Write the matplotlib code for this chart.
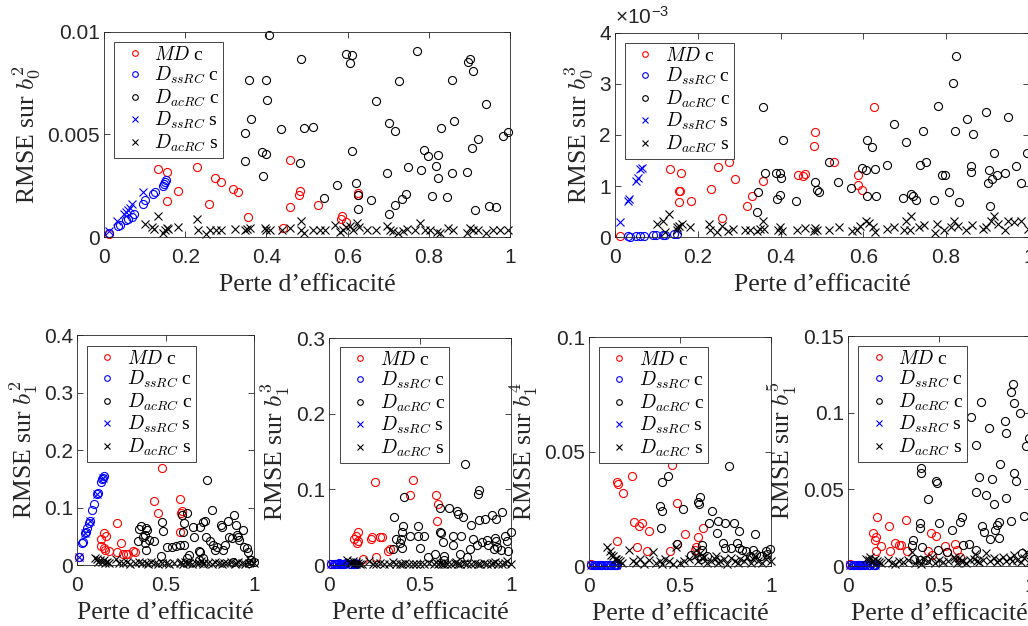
import numpy as np
import matplotlib
matplotlib.use("Agg")
import matplotlib.pyplot as plt

# ---- haut gauche : RMSE sur b0^2 ----
p1_md_x = [0.012,0.133,0.155,0.154,0.160,0.182,0.230,0.248,0.259,0.274,0.288,0.318,0.329,0.355,0.442,0.457,0.458,0.481,0.483,0.528,0.584,0.586,0.597,0.626,0.626]
p1_md_y = [0.00016,0.00334,0.00315,0.00178,0.0045,0.00223,0.00341,0.0042,0.00163,0.00289,0.00266,0.00232,0.00219,0.00098,0.00044,0.00144,0.00375,0.00204,0.00223,0.00155,0.0009,0.00103,0.00073,0.00217,0.00204]
p1_ssc_x = [0.012,0.035,0.040,0.055,0.060,0.070,0.075,0.095,0.100,0.120,0.125,0.145,0.148,0.150,0.152]
p1_ssc_y = [0.0002,0.00055,0.0006,0.00085,0.0009,0.001,0.0011,0.0016,0.0018,0.0021,0.0022,0.0025,0.0026,0.0027,0.0028]
p1_acc_x = [0.407,0.597,0.611,0.606,0.486,0.770,0.897,0.902,0.910,0.357,
            0.399,0.727,0.856,0.401,0.671,0.942,0.361,0.703,0.716,0.862,
            0.348,0.436,0.493,0.515,0.829,0.982,0.996,0.922,0.906,0.611,
            0.388,0.398,0.788,0.797,0.823,0.347,0.482,0.392,0.749,0.780,
            0.817,0.696,0.894,0.857,0.822,0.573,0.620,0.541,0.626,0.657,
            0.735,0.743,0.717,0.807,0.846,0.626,0.703,0.914,0.948,0.965]
p1_acc_y = [0.00987,0.00892,0.00886,0.00848,0.00866,0.00905,0.00855,0.00868,0.00812,0.00767,
            0.00767,0.00763,0.00767,0.00666,0.00661,0.00649,0.00574,0.00555,0.00519,0.00566,
            0.00509,0.00529,0.00532,0.00538,0.0053,0.00493,0.00512,0.00476,0.00432,0.00421,
            0.00416,0.00405,0.00424,0.00396,0.00398,0.0037,0.00359,0.00297,0.00343,0.00325,
            0.00346,0.0031,0.00318,0.0031,0.00287,0.00256,0.00264,0.00191,0.00204,0.00181,
            0.00186,0.00209,0.00155,0.00199,0.00196,0.00139,0.00111,0.00134,0.00153,0.00144]
p1_sss_x = [0.012,0.032,0.050,0.055,0.058,0.065,0.070,0.095]
p1_sss_y = [0.00028,0.0008,0.0011,0.0012,0.0013,0.0014,0.0016,0.0022]
p1_acs_x = [0.102,0.117,0.122,0.133,0.145,0.150,0.154,0.158,0.182,0.229,
            0.231,0.250,0.260,0.275,0.288,0.323,0.347,0.352,0.359,0.396,
            0.400,0.408,0.439,0.459,0.486,0.486,0.492,0.515,0.532,0.544,
            0.569,0.581,0.589,0.597,0.606,0.614,0.622,0.629,0.648,0.669,
            0.698,0.704,0.712,0.725,0.737,0.747,0.766,0.778,0.790,0.803,
            0.819,0.827,0.848,0.860,0.893,0.901,0.910,0.922,0.942,0.959,
            0.975,0.996]
p1_acs_y = [0.00062,0.00049,0.00041,0.00101,0.00021,0.00036,0.00046,0.00041,0.00049,0.00086,
            0.00033,0.00016,0.00033,0.00036,0.00036,0.00041,0.00033,0.00038,0.00044,0.00044,
            0.00036,0.00033,0.00033,0.00044,0.00077,0.00033,0.00021,0.00033,0.00033,0.00033,
            0.0006,0.00024,0.00033,0.00049,0.00054,0.00033,0.00069,0.00049,0.00033,0.00033,
            0.00054,0.00033,0.00028,0.00021,0.00028,0.00041,0.00033,0.00069,0.00033,0.00033,
            0.00024,0.00021,0.00044,0.00033,0.00021,0.00044,0.00033,0.00033,0.00021,0.00033,
            0.00033,0.00036]

# ---- haut droite : RMSE sur b0^3 (en 1e-3) ----
p2_md_x = [0.011,0.132,0.154,0.157,0.160,0.154,0.183,0.232,0.248,0.259,
           0.276,0.289,0.319,0.330,0.357,0.441,0.455,0.460,0.483,0.482,
           0.530,0.586,0.588,0.597,0.626]
p2_md_y = [0.02,1.33,0.91,0.91,1.25,0.68,0.71,0.95,1.38,0.37,
           1.48,1.14,0.61,0.81,1.10,1.21,1.19,1.24,2.05,1.78,
           1.47,1.21,1.02,0.92,2.55]
p2_ssc_x = [0.032,0.036,0.052,0.060,0.070,0.092,0.100,0.116,0.122,0.142,0.149]
p2_ssc_y = [0.013,0.007,0.02,0.02,0.02,0.033,0.033,0.04,0.04,0.06,0.065]
p2_acc_x = [0.825,0.817,0.358,0.781,0.897,0.949,0.850,0.674,0.822,0.745,
            0.866,0.407,0.610,0.620,0.704,0.915,0.996,0.517,0.751,0.736,
            0.658,0.968,0.627,0.597,0.607,0.860,0.904,0.860,0.363,0.389,
            0.398,0.402,0.791,0.797,0.922,0.942,0.901,0.911,0.484,0.540,
            0.981,0.346,0.487,0.494,0.570,0.808,0.716,0.719,0.697,0.727,
            0.771,0.391,0.399,0.437,0.610,0.630,0.830,0.907,0.344]
p2_acc_y = [3.54,3.02,2.55,2.57,2.46,2.35,2.31,2.22,2.08,2.07,
            2.01,1.91,1.91,1.76,1.86,1.65,1.65,1.48,1.48,1.42,
            1.42,1.39,1.33,1.36,1.31,1.39,1.32,1.27,1.25,1.25,
            1.25,1.15,1.21,1.21,1.21,1.25,1.05,1.14,1.08,1.08,
            1.05,0.88,0.93,0.88,0.96,0.88,0.84,0.80,0.76,0.73,
            0.73,0.75,0.82,0.71,0.80,0.80,0.69,0.61,0.50]
p2_sss_x = [0.011,0.032,0.035,0.052,0.056,0.061,0.065,0.075,0.09,0.10,0.12,0.15]
p2_sss_y = [0.29,0.70,0.75,1.09,1.16,1.33,1.35,1.6,2.0,2.2,2.6,3.2]
p2_acs_x = [0.102,0.116,0.131,0.122,0.149,0.151,0.155,0.161,0.181,0.226,
            0.230,0.246,0.258,0.274,0.286,0.314,0.327,0.343,0.351,0.357,
            0.361,0.395,0.399,0.403,0.440,0.460,0.480,0.484,0.487,0.517,
            0.541,0.573,0.585,0.593,0.606,0.614,0.624,0.627,0.658,0.673,
            0.698,0.703,0.713,0.716,0.735,0.747,0.774,0.779,0.795,0.812,
            0.820,0.828,0.848,0.862,0.888,0.897,0.909,0.915,0.925,0.941,
            0.949,0.965,0.981,0.998]
p2_acs_y = [0.26,0.32,0.45,0.09,0.19,0.14,0.21,0.26,0.20,0.26,
            0.14,0.09,0.21,0.11,0.16,0.14,0.14,0.11,0.16,0.32,
            0.16,0.14,0.19,0.11,0.14,0.17,0.11,0.18,0.14,0.14,
            0.19,0.11,0.14,0.21,0.31,0.27,0.19,0.10,0.16,0.19,
            0.14,0.31,0.14,0.42,0.19,0.24,0.08,0.25,0.14,0.19,
            0.32,0.21,0.14,0.23,0.16,0.19,0.31,0.41,0.26,0.14,
            0.31,0.29,0.31,0.16]

# ---- rangee du bas : positions communes ----
bas_ssc_x = [0.013,0.028,0.034,0.043,0.053,0.058,0.066,0.072,0.085,0.096,0.115,0.119,0.138,0.143,0.147,0.151]
bas_sss_x = [0.013,0.043,0.072,0.115,0.147]
bas_acs_x = [0.10,0.115,0.12,0.13,0.14,0.15,0.16,0.17,0.18,
             0.22,0.24,0.26,0.28,0.30,0.33,0.35,0.37,0.39,0.40,
             0.42,0.44,0.46,0.48,0.50,0.52,0.55,0.58,0.59,0.60,
             0.61,0.62,0.63,0.65,0.67,0.69,0.70,0.71,0.72,0.74,
             0.76,0.78,0.80,0.82,0.83,0.85,0.87,0.89,0.90,0.91,
             0.93,0.95,0.97,0.98,1.0]

# b1^2
b1_md_x = [0.013,0.134,0.153,0.162,0.138,0.151,0.157,0.181,0.225,0.247,0.228,0.260,0.279,0.289,0.319,0.330,0.436,0.455,0.481,0.583,0.591,0.583,0.587]
b1_md_y = [0.0145,0.045,0.056,0.051,0.033,0.029,0.026,0.024,0.073,0.038,0.023,0.020,0.019,0.020,0.024,0.023,0.112,0.091,0.169,0.115,0.094,0.058,0.091]
b1_ssc_y = [0.0145,0.038,0.040,0.055,0.058,0.064,0.073,0.076,0.096,0.106,0.123,0.126,0.145,0.149,0.151,0.154]
b1_acc_x = [0.736,0.764,0.481,0.487,0.349,0.360,0.392,0.398,0.383,0.374,
            0.342,0.383,0.406,0.434,0.389,0.477,0.511,0.534,0.557,0.581,
            0.606,0.600,0.594,0.602,0.655,0.662,0.696,0.709,0.723,0.726,
            0.751,0.689,0.696,0.770,0.789,0.811,0.817,0.851,0.858,0.874,
            0.889,0.898,0.902,0.908,0.917,0.940,0.945,0.958,0.968,0.983,
            0.779,0.826,0.836,0.619,0.62,0.63,0.69,0.71,0.88,1.0,0.97]
b1_acc_y = [0.148,0.095,0.074,0.060,0.063,0.068,0.064,0.061,0.052,0.048,
            0.041,0.039,0.044,0.042,0.027,0.016,0.032,0.032,0.033,0.035,
            0.035,0.058,0.087,0.073,0.067,0.048,0.066,0.074,0.076,0.048,
            0.042,0.024,0.022,0.035,0.032,0.070,0.066,0.077,0.048,0.047,
            0.087,0.070,0.052,0.049,0.044,0.061,0.032,0.029,0.023,0.009,
            0.026,0.026,0.035,0.090,0.012,0.018,0.008,0.012,0.005,0.005,0.004]
b1_sss_y = [0.0145,0.055,0.076,0.123,0.151]
b1_acs_y = [0.012,0.010,0.006,0.009,0.005,0.008,0.004,0.006,0.003,
            0.011,0.004,0.003,0.005,0.002,0.004,0.006,0.003,0.004,0.002,
            0.005,0.003,0.002,0.004,0.003,0.002,0.004,0.003,0.006,0.002,
            0.005,0.003,0.004,0.002,0.003,0.004,0.007,0.002,0.003,0.004,
            0.002,0.005,0.003,0.002,0.004,0.003,0.005,0.002,0.004,0.006,
            0.003,0.002,0.004,0.008,0.003]

# b1^3
b2_md_x = [0.013,0.251,0.462,0.448,0.591,0.600,0.593,0.160,0.150,0.136,0.160,0.156,0.229,0.237,0.283,0.292,0.334,0.325,0.261,0.187]
b2_md_y = [0.002,0.110,0.112,0.092,0.093,0.081,0.058,0.043,0.038,0.035,0.032,0.029,0.035,0.037,0.037,0.037,0.021,0.018,0.011,0.0075]
b2_ssc_y = [0.001,0.002,0.001,0.002,0.003,0.001,0.002,0.002,0.001,0.003,0.002,0.001,0.002,0.003,0.002,0.001]
b2_acc_x = [0.747,0.826,0.820,0.411,0.613,0.661,0.706,0.710,0.738,0.358,
            0.407,0.490,0.783,0.826,0.857,0.897,0.917,0.952,0.402,0.609,
            0.618,0.367,0.398,0.444,0.490,0.523,0.389,0.402,0.352,0.499,
            0.628,0.679,0.725,0.679,0.793,0.811,0.839,0.866,0.875,0.912,
            0.916,0.925,0.774,0.908,0.945,0.967,1.000,0.976,0.982,0.545,
            0.582,0.631,0.719,0.756,0.633]
b2_acc_y = [0.134,0.099,0.094,0.090,0.075,0.076,0.071,0.068,0.064,0.063,
            0.052,0.052,0.053,0.060,0.061,0.066,0.061,0.070,0.043,0.044,
            0.042,0.035,0.035,0.038,0.039,0.039,0.029,0.022,0.021,0.023,
            0.031,0.038,0.039,0.027,0.035,0.026,0.030,0.033,0.027,0.036,
            0.032,0.024,0.021,0.021,0.020,0.038,0.044,0.032,0.019,0.010,
            0.015,0.012,0.015,0.010,0.007]
b2_sss_y = [0.001,0.002,0.001,0.002,0.001]
b2_acs_y = [0.006,0.004,0.003,0.005,0.002,0.004,0.003,0.002,0.001,
            0.005,0.002,0.001,0.003,0.001,0.002,0.004,0.001,0.002,0.001,
            0.003,0.002,0.001,0.002,0.001,0.002,0.003,0.001,0.004,0.002,
            0.003,0.001,0.002,0.001,0.002,0.003,0.004,0.001,0.002,0.003,
            0.001,0.002,0.003,0.001,0.002,0.003,0.002,0.001,0.003,0.004,
            0.002,0.001,0.003,0.005,0.002]

# b1^4
b3_md_x = [0.457,0.234,0.155,0.161,0.188,0.484,0.249,0.289,0.274,0.329,
           0.627,0.530,0.600,0.155,0.261,0.316,0.444,0.587,0.581,0.481,0.01]
b3_md_y = [0.0442,0.0393,0.0365,0.0358,0.0320,0.0276,0.0193,0.0186,0.0174,0.0154,
           0.0168,0.0142,0.0127,0.0108,0.0083,0.0064,0.0064,0.0083,0.0072,0.0098,0.001]
b3_ssc_y = [0.0003,0.0004,0.0003,0.0005,0.0004,0.0003,0.0005,0.0004,0.0003,0.0004,0.0005,0.0003,0.0004,0.0005,0.0004,0.0003]
b3_acc_x = [0.768,0.435,0.399,0.609,0.600,0.605,0.389,0.402,0.517,0.676,
            0.706,0.658,0.746,0.795,0.395,0.704,0.823,0.914,0.481,0.622,
            0.735,0.746,0.782,0.815,0.823,0.843,0.865,0.901,0.920,0.974,
            0.993,0.563,0.623,0.651,0.618,0.883,0.947,0.980]
b3_acc_y = [0.0439,0.0393,0.0365,0.0300,0.0281,0.0273,0.0262,0.0240,0.0249,0.0241,
            0.0196,0.0186,0.0189,0.0190,0.0164,0.0145,0.0152,0.0142,0.0095,0.0094,
            0.0102,0.0079,0.0079,0.0101,0.0079,0.0069,0.0064,0.0069,0.0054,0.0064,
            0.0076,0.0050,0.0072,0.0042,0.0032,0.0042,0.0042,0.0054]
b3_sss_y = [0.0003,0.0004,0.0003,0.0004,0.0003]
b3_acs_y = [0.0083,0.0064,0.005,0.0042,0.003,0.0032,0.0025,0.002,0.0015,
            0.0072,0.002,0.0015,0.003,0.001,0.0025,0.0061,0.0015,0.002,0.001,
            0.003,0.002,0.001,0.0083,0.0015,0.002,0.003,0.0045,0.007,0.002,
            0.0055,0.0035,0.004,0.0015,0.002,0.003,0.0045,0.0015,0.002,0.003,
            0.001,0.0035,0.002,0.0015,0.003,0.002,0.004,0.0015,0.003,0.0045,
            0.002,0.0015,0.003,0.005,0.002]

# b1^5
b4_md_x = [0.161,0.320,0.228,0.135,0.154,0.148,0.457,0.485,0.181,0.259,
           0.278,0.293,0.531,0.589,0.598,0.154,0.231,0.324,0.441,0.459,
           0.546,0.615,0.009]
b4_md_y = [0.0320,0.0302,0.0261,0.0217,0.0189,0.0172,0.0215,0.0196,0.0128,0.0152,
           0.0139,0.0139,0.0128,0.0141,0.0107,0.0096,0.0096,0.0096,0.0096,0.0074,
           0.0091,0.0059,0.0015]
b4_ssc_y = [0.0005,0.0008,0.0006,0.0009,0.0007,0.0006,0.0008,0.0009,0.0007,0.0006,0.0008,0.0009,0.0007,0.0008,0.0006,0.0009]
b4_acc_x = [0.907,0.898,0.913,0.944,0.731,0.676,0.861,0.774,0.870,0.996,
            0.981,0.704,0.833,0.402,0.402,0.719,0.793,0.911,0.926,0.485,
            0.487,0.439,0.704,0.756,0.800,0.867,0.969,0.626,0.617,0.898,
            0.830,0.819,0.737,0.746,0.809,0.783,0.828,0.500,0.393,0.393,
            0.574,0.357,0.352,0.404,0.496,0.663,0.630,0.543,0.704,0.954,
            0.361,0.398,0.426]
b4_acc_y = [0.1189,0.1135,0.1063,0.1000,0.1070,0.0972,0.0946,0.0900,0.0867,0.0837,
            0.0783,0.0791,0.0667,0.0641,0.0609,0.0580,0.0570,0.0609,0.0554,0.0552,
            0.0541,0.0439,0.0483,0.0461,0.0407,0.0443,0.0326,0.0320,0.0287,0.0293,
            0.0287,0.0270,0.0259,0.0222,0.0237,0.0174,0.0185,0.0283,0.0280,0.0250,
            0.0233,0.0167,0.0135,0.0124,0.0102,0.0146,0.0135,0.0091,0.0102,0.0085,
            0.0043,0.0037,0.0037]
b4_sss_y = [0.0005,0.0007,0.0006,0.0008,0.0006]
b4_acs_y = [0.0048,0.0041,0.006,0.0035,0.003,0.0045,0.003,0.0025,0.002,
            0.0037,0.002,0.0015,0.003,0.0025,0.004,0.0091,0.002,0.003,0.0015,
            0.0045,0.003,0.0059,0.002,0.004,0.0025,0.003,0.0059,0.0045,0.002,
            0.005,0.0035,0.003,0.002,0.004,0.0045,0.008,0.003,0.0025,0.004,
            0.0085,0.003,0.005,0.0025,0.004,0.006,0.0035,0.005,0.003,0.007,
            0.004,0.0025,0.005,0.0091,0.003]

labels = [r'$MD$ c', r'$D_{ssRC}$ c', r'$D_{acRC}$ c', r'$D_{ssRC}$ s', r'$D_{acRC}$ s']
SERIF = 'Liberation Serif'
GRIS = '#262626'


def trace(ax, series, ylim, yticks, xticks, ylab, leg_pos):
    styles = [('o', 'red'), ('o', 'blue'), ('o', 'black'), ('x', 'blue'), ('x', 'black')]
    for (x, y), (m, c), lab in zip(series, styles, labels):
        if m == 'o':
            ax.plot(x, y, ls='none', marker='o', ms=5.8, mfc='none', mec=c, mew=0.8,
                    label=lab, clip_on=False)
        else:
            ax.plot(x, y, ls='none', marker='x', ms=5.8, mec=c, mew=0.8,
                    label=lab, clip_on=False)
    ax.set_xlim(0, 1)
    ax.set_ylim(*ylim)
    ax.set_xticks(xticks)
    ax.set_yticks(yticks)
    ax.xaxis.set_major_formatter(plt.FuncFormatter(lambda v, p: '%g' % v))
    ax.yaxis.set_major_formatter(plt.FuncFormatter(lambda v, p: '%g' % v))
    ax.tick_params(direction='in', top=True, right=True, length=4, width=0.6,
                   labelsize=15, colors=GRIS)
    ax.tick_params(axis='x', pad=8)
    ax.tick_params(axis='y', pad=3)
    for s in ax.spines.values():
        s.set_color(GRIS)
        s.set_linewidth(0.6)
    ax.set_xlabel('Perte d’efficacité', fontfamily=SERIF, fontsize=18.5, color=GRIS, labelpad=5)
    ax.set_ylabel(ylab, fontfamily=SERIF, fontsize=18.5, color=GRIS, labelpad=3)
    leg = ax.legend(loc='upper left', bbox_to_anchor=leg_pos, borderaxespad=0,
                    numpoints=1, fancybox=False, framealpha=1, edgecolor=GRIS,
                    prop={'family': SERIF, 'size': 14}, markerscale=0.7,
                    handlelength=1.7, handletextpad=0.15, labelspacing=0.06,
                    borderpad=0.2)
    leg.get_frame().set_linewidth(0.6)


def main():
    plt.rcParams['font.family'] = ['Liberation Sans', 'DejaVu Sans']
    plt.rcParams['mathtext.fontset'] = 'cm'

    fig = plt.figure(figsize=(10.28, 6.26), dpi=100)

    ax1 = fig.add_axes([0.1012, 0.6214, 0.3949, 0.3275])
    trace(ax1, [(p1_md_x, p1_md_y), (p1_ssc_x, p1_ssc_y), (p1_acc_x, p1_acc_y),
                (p1_sss_x, p1_sss_y), (p1_acs_x, p1_acs_y)],
          (0, 0.01), [0, 0.005, 0.01], [0, 0.2, 0.4, 0.6, 0.8, 1],
          r'RMSE sur $b_0^2$', (0.025, 0.951))

    k = 1e-3
    ax2 = fig.add_axes([0.5982, 0.6214, 0.4027, 0.3259])
    trace(ax2, [(p2_md_x, np.array(p2_md_y) * k), (p2_ssc_x, np.array(p2_ssc_y) * k),
                (p2_acc_x, np.array(p2_acc_y) * k), (p2_sss_x, np.array(p2_sss_y) * k),
                (p2_acs_x, np.array(p2_acs_y) * k)],
          (0, 4e-3), [0, 1e-3, 2e-3, 3e-3, 4e-3], [0, 0.2, 0.4, 0.6, 0.8, 1],
          r'RMSE sur $b_0^3$', (0.024, 0.951))
    ax2.yaxis.set_major_formatter(plt.FuncFormatter(lambda v, p: '%g' % round(v / k, 6)))
    ax2.text(0, 1.02, '×10$^{\\mathregular{-3}}$', transform=ax2.transAxes,
             fontsize=15, color=GRIS, ha='left', va='bottom')

    bas = [
        ([0.0749, 0.0974, 0.1722, 0.3674], b1_md_x, b1_md_y, b1_ssc_y, b1_acc_x, b1_acc_y,
         b1_sss_y, b1_acs_y, (0, 0.4), [0, 0.1, 0.2, 0.3, 0.4], r'RMSE sur $b_1^2$', (0.056, 0.952)),
        ([0.3200, 0.0974, 0.1770, 0.3626], b2_md_x, b2_md_y, b2_ssc_y, b2_acc_x, b2_acc_y,
         b2_sss_y, b2_acs_y, (0, 0.3), [0, 0.1, 0.2, 0.3], r'RMSE sur $b_1^3$', (0.06, 0.96)),
        ([0.5730, 0.0958, 0.1770, 0.3658], b3_md_x, b3_md_y, b3_ssc_y, b3_acc_x, b3_acc_y,
         b3_sss_y, b3_acs_y, (0, 0.1), [0, 0.05, 0.1], r'RMSE sur $b_1^4$', (0.055, 0.957)),
        ([0.8249, 0.0958, 0.1770, 0.3674], b4_md_x, b4_md_y, b4_ssc_y, b4_acc_x, b4_acc_y,
         b4_sss_y, b4_acs_y, (0, 0.15), [0, 0.05, 0.1, 0.15], r'RMSE sur $b_1^5$', (0.056, 0.957)),
    ]
    for pos, mdx, mdy, sscy, accx, accy, sssy, acsy, ylim, yt, ylab, lp in bas:
        ax = fig.add_axes(pos)
        trace(ax, [(mdx, mdy), (bas_ssc_x, sscy), (accx, accy),
                   (bas_sss_x, sssy), (bas_acs_x, acsy)],
              ylim, yt, [0, 0.5, 1], ylab, lp)

    fig.savefig('out.png', dpi=100)


if __name__ == "__main__":
    main()
